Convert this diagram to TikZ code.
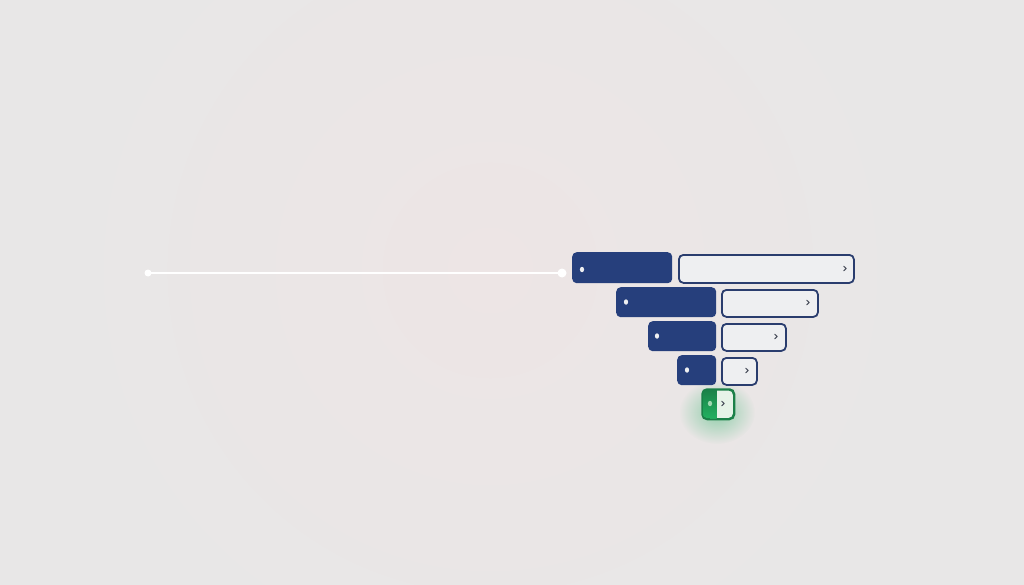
\documentclass[tikz,border=0pt]{standalone}
\usetikzlibrary{positioning,calc,fadings,shapes.geometric}
\definecolor{bgc}{HTML}{E8E7E7}
\definecolor{bgpink}{HTML}{EDE5E5}
\definecolor{navy}{HTML}{263F7C}
\definecolor{navyline}{HTML}{2A3D6E}
\definecolor{lightf}{HTML}{EEEFF1}
\definecolor{gdark}{HTML}{1B8048}
\definecolor{gbright}{HTML}{22B060}
\definecolor{glight}{HTML}{E6F3E8}
\definecolor{gdot}{HTML}{9FD8B0}
\definecolor{chev}{HTML}{4A4F5C}
\tikzfading[name=glowfade, inner color=transparent!55, outer color=transparent!100]
\tikzset{
  darkbox/.style={draw=none, fill=navy, rounded corners=4.5pt, inner sep=0pt, anchor=north west},
  lightbox/.style={draw=navyline, line width=1.8pt, fill=lightf, rounded corners=4.5pt, inner sep=0pt, anchor=north west},
  dotmark/.style={ellipse, fill=lightf, inner sep=0pt, minimum width=4.2pt, minimum height=5.5pt},
  endpt/.style={circle, fill=white, inner sep=0pt, minimum size=7pt},
  chevpath/.style={draw=chev, line width=1pt, line cap=round, line join=round},
  rail/.style={draw=white, line width=2pt}
}
\newcommand{\chevat}[1]{\draw[chevpath] ($(#1)+(-1.2,-2.2)$) -- ($(#1)+(1.2,0)$) -- ($(#1)+(-1.2,2.2)$);}
\begin{document}
\begin{tikzpicture}[x=1pt,y=-1pt]
\useasboundingbox (0,0) rectangle (1024,585);
\fill[bgc] (0,0) rectangle (1024,585);
\begin{scope}
\clip (0,0) rectangle (1024,585);
\shade[inner color=bgpink, outer color=bgc] (490,270) circle (430);
\end{scope}
% glow under green box
\fill[gbright, path fading=glowfade] (717,412) ellipse (38pt and 32pt);
% row 1
\node[darkbox, minimum width=100pt, minimum height=31pt] (d1) at (572,252) {};
\node[lightbox, minimum width=175pt, minimum height=28pt] (l1) at (678,254) {};
% row 2
\node[darkbox, minimum width=100pt, minimum height=30pt] (d2) at (616,287) {};
\node[lightbox, minimum width=96pt, minimum height=27pt] (l2) at (721,289) {};
% row 3
\node[darkbox, minimum width=68pt, minimum height=30pt] (d3) at (648,321) {};
\node[lightbox, minimum width=64pt, minimum height=27pt] (l3) at (721,323) {};
% row 4
\node[darkbox, minimum width=39pt, minimum height=30pt] (d4) at (677,355) {};
\node[lightbox, minimum width=35pt, minimum height=27pt] (l4) at (721,357) {};
% row 5 (green)
\node[draw=gdark, line width=1.5pt, fill=glight, rounded corners=5pt, inner sep=0pt, anchor=north west, minimum width=31pt, minimum height=29pt] (g5) at (702,389) {};
\shade[top color=gdark, bottom color=gbright, rounded corners=5pt] (702,389) -- (716,389) -- (716,418) -- (702,418) -- cycle;
\shade[top color=gdark, bottom color=gbright] (710,389) rectangle (716.5,418);
\draw[gdark, line width=1.5pt, rounded corners=5pt] (g5.north west) rectangle (g5.south east);
% dots
\node[dotmark] (p1) at (582,269.5) {};
\node[dotmark] (p2) at (626,302) {};
\node[dotmark] (p3) at (657,336) {};
\node[dotmark] (p4) at (687,370) {};
\node[dotmark, fill=gdot] (p5) at (710,403.5) {};
% chevrons
\coordinate (c1) at (845,268.5);
\coordinate (c2) at (808,302.5);
\coordinate (c3) at (776,336.5);
\coordinate (c4) at (747,370.5);
\coordinate (c5) at (723,403.5);
\chevat{c1}\chevat{c2}\chevat{c3}\chevat{c4}\chevat{c5}
% rail line
\node[endpt] (a) at (148,273) {};
\node[endpt, minimum size=9pt] (b) at (562,273) {};
\draw[rail] (a.center) -- (b.center);
\end{tikzpicture}
\end{document}
